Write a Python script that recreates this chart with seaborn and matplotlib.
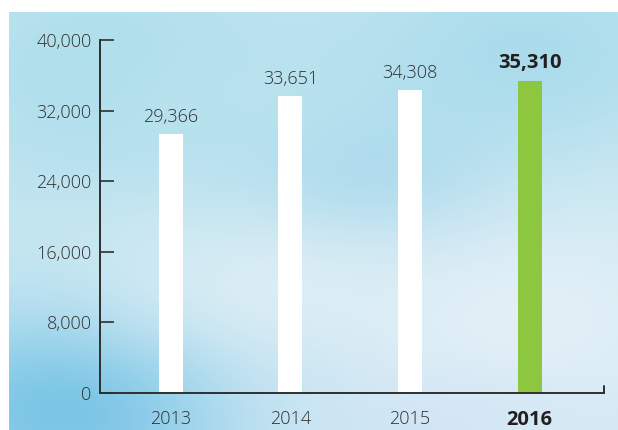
import numpy as np
import pandas as pd
import seaborn as sns
import matplotlib.pyplot as plt
from matplotlib.colors import to_rgb

years = ['2013', '2014', '2015', '2016']
visitors = [29366, 33651, 34308, 35310]
value_labels = ['29,366', '33,651', '34,308', '35,310']
bar_colors = ['#ffffff', '#ffffff', '#ffffff', '#8dc63f']
yticks = [0, 8000, 16000, 24000, 32000, 40000]
ytick_labels = ['0', '8,000', '16,000', '24,000', '32,000', '40,000']

sns.set_style('white')
plt.rcParams['font.family'] = ['Open Sans', 'DejaVu Sans']
txt = '#2f2f2f'
dark = '#231f20'

fig = plt.figure(figsize=(6.18, 4.30), dpi=100)
fig.patch.set_facecolor('white')

#%%
# watercolour-ish background (soft blobs of blue on a pale base)
h, w = 420, 610
yy, xx = np.mgrid[0:h, 0:w] / np.array([h, w])[:, None, None]
img = np.ones((h, w, 3)) * np.array(to_rgb('#cfeaf3'))
blobs = [  # (cx, cy, rx, ry, colour, strength)  cy from top
    (0.15, 0.15, 0.35, 0.35, '#a6dbea', 0.8),
    (0.85, 0.10, 0.35, 0.30, '#a3d9ea', 0.8),
    (0.60, 0.45, 0.22, 0.22, '#94d0e8', 0.7),
    (0.10, 0.95, 0.30, 0.25, '#6fc0e4', 0.9),
    (0.45, 0.65, 0.30, 0.20, '#e4f1f6', 0.7),
    (0.85, 0.75, 0.30, 0.30, '#e8f1f8', 0.8),
    (0.70, 0.98, 0.30, 0.15, '#cfe3f5', 0.6),
    (0.35, 0.20, 0.25, 0.15, '#bde4ef', 0.5),
]
for cx, cy, rx, ry, c, s in blobs:
    wgt = s * np.exp(-(((xx - cx) / rx) ** 2 + ((yy - cy) / ry) ** 2))
    img = img * (1 - wgt[..., None]) + np.array(to_rgb(c)) * wgt[..., None]
bg = fig.add_axes([9 / 618, 0, 1 - 9 / 618, 418 / 430])
bg.imshow(np.clip(img, 0, 1), aspect='auto', interpolation='bilinear')
bg.axis('off')

#%%
ax = fig.add_axes([100 / 618, 37 / 430, 504 / 618, 353 / 430])
ax.set_facecolor('none')
df = pd.DataFrame({'year': years, 'visitors': visitors})
sns.barplot(data=df, x='year', y='visitors', hue='year', palette=bar_colors,
            width=0.2, saturation=1, legend=False, linewidth=0, ax=ax)
ax.set_xlim(-0.59, 3.62)
ax.set_ylim(0, 40000)
ax.set_xlabel('')
ax.set_ylabel('')

for i, (v, lab) in enumerate(zip(visitors, value_labels)):
    bold = i == len(years) - 1
    ax.annotate(lab, (i, v), xytext=(0, 6), textcoords='offset points',
                ha='center', va='bottom', color=dark if bold else txt,
                fontsize=14.5 if bold else 13, fontweight='bold' if bold else 'light')

ax.set_yticks(yticks)
ax.set_yticklabels(ytick_labels, fontsize=13, color=txt, fontweight='light')
ax.set_xticks(range(len(years)))
ax.set_xticklabels(years, fontsize=13, color=txt, fontweight='light')
last = ax.get_xticklabels()[-1]
last.set_fontweight('bold')
last.set_fontsize(14.5)
last.set_color(dark)
ax.tick_params(axis='y', direction='in', length=10, width=1.2, color=txt, pad=6, left=True)
ax.tick_params(axis='x', length=0, pad=12)

sns.despine(ax=ax, top=True, right=True)
for s in ['left', 'bottom']:
    ax.spines[s].set_color(txt)
    ax.spines[s].set_linewidth(1.4)
# little end tick at the right of the x axis
ax.plot([3.62, 3.62], [0, 800], color=txt, lw=1.4, clip_on=False)

fig.savefig('out.png', dpi=100)
